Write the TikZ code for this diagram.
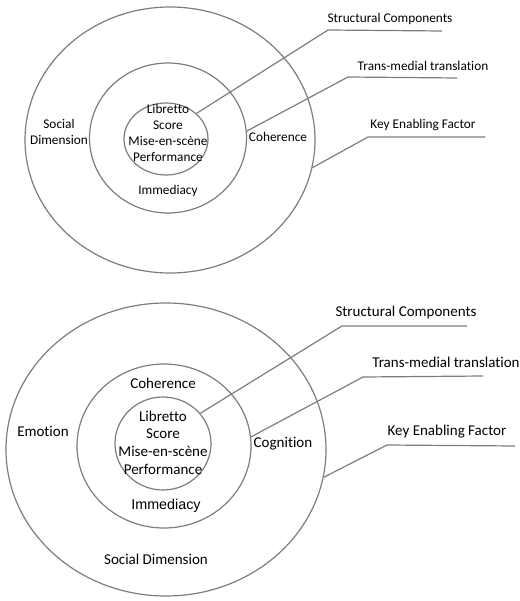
\documentclass[tikz,border=0pt]{standalone}
\usepackage{fontspec}
\setmainfont{Carlito}[Ligatures=NoCommon]
\newfontfamily\arialfont{Liberation Sans}
\usetikzlibrary{shapes.geometric}
\definecolor{linegray}{RGB}{125,125,125}

\begin{document}
\begin{tikzpicture}[x=1pt, y=-1pt,
        ring/.style={ellipse, draw=linegray, line width=1.2pt, inner sep=0pt},
        lead/.style={draw=linegray, line width=1.2pt},
        txtA/.style={font=\fontsize{13.3}{16}\selectfont, inner sep=0pt, align=center},
        txtB/.style={font=\fontsize{15}{17.7}\selectfont, inner sep=0pt, align=center}]
    \useasboundingbox (0,0) rectangle (519,601);

    % upper diagram
    \node[ring, minimum width=290, minimum height=266] (outA) at (170,140) {};
    \node[ring, minimum width=157, minimum height=150] (midA) at (168,138) {};
    \node[ring, minimum width=84, minimum height=72] (inA) at (166,139) {};

    \node[txtA] (coreA) at (168,133) {Libretto\\Score\\Mise-en-scène\\Performance};
    \node[txtA] (immA) at (168,191) {Immediacy};
    \node[txtA] (cohA) at (278,137) {Coherence};
    \node[txtA] (socA) at (59,131.5) {Social\\Dimension};

    \node[txtA] (scA) at (390,19) {Structural Components};
    \node[txtA] (tmA) at (423,66) {Trans-medial translation};
    \node[txtA] (keA) at (423,125) {Key Enabling Factor};

    \coordinate (scA bend) at (328,30);  \coordinate (scA end) at (442,31);
    \coordinate (tmA bend) at (348,77);  \coordinate (tmA end) at (457,78);
    \coordinate (keA bend) at (368,137); \coordinate (keA end) at (485,137);

    \draw[lead] (inA.40) -- (scA bend) -- (scA end);
    \draw[lead] (midA.5) -- (tmA bend) -- (tmA end);
    \draw[lead] (outA.-11) -- (keA bend) -- (keA end);

    % lower diagram
    \node[ring, minimum width=320, minimum height=293] (outB) at (166,449.5) {};
    \node[ring, minimum width=174, minimum height=164] (midB) at (164,446) {};
    \node[ring, minimum width=96, minimum height=93] (inB) at (163,443.5) {};

    \node[txtB] (coreB) at (163,442.5) {Libretto\\Score\\Mise-en-scène\\Performance};
    \node[txtB, font=\arialfont\fontsize{14.3}{17}\selectfont] (immB) at (166,506) {Immediacy};
    \node[txtB] (cohB) at (163,383) {Coherence};
    \node[txtB] (emoB) at (43,431) {Emotion};
    \node[txtB] (cogB) at (283,444) {Cognition};
    \node[txtB] (socB) at (156,559) {Social Dimension};

    \node[txtB] (scB) at (406,312) {Structural Components};
    \node[txtB] (tmB) at (446,362) {Trans-medial translation};
    \node[txtB] (keB) at (447,432) {Key Enabling Factor};

    \coordinate (scB bend) at (342,326); \coordinate (scB end) at (467,326);
    \coordinate (tmB bend) at (363,377); \coordinate (tmB end) at (483,376);
    \coordinate (keB bend) at (387,445); \coordinate (keB end) at (515,446);

    \draw[lead] (inB.39) -- (scB bend) -- (scB end);
    \draw[lead] (midB.6) -- (tmB bend) -- (tmB end);
    \draw[lead] (outB.-10) -- (keB bend) -- (keB end);
\end{tikzpicture}
\end{document}
